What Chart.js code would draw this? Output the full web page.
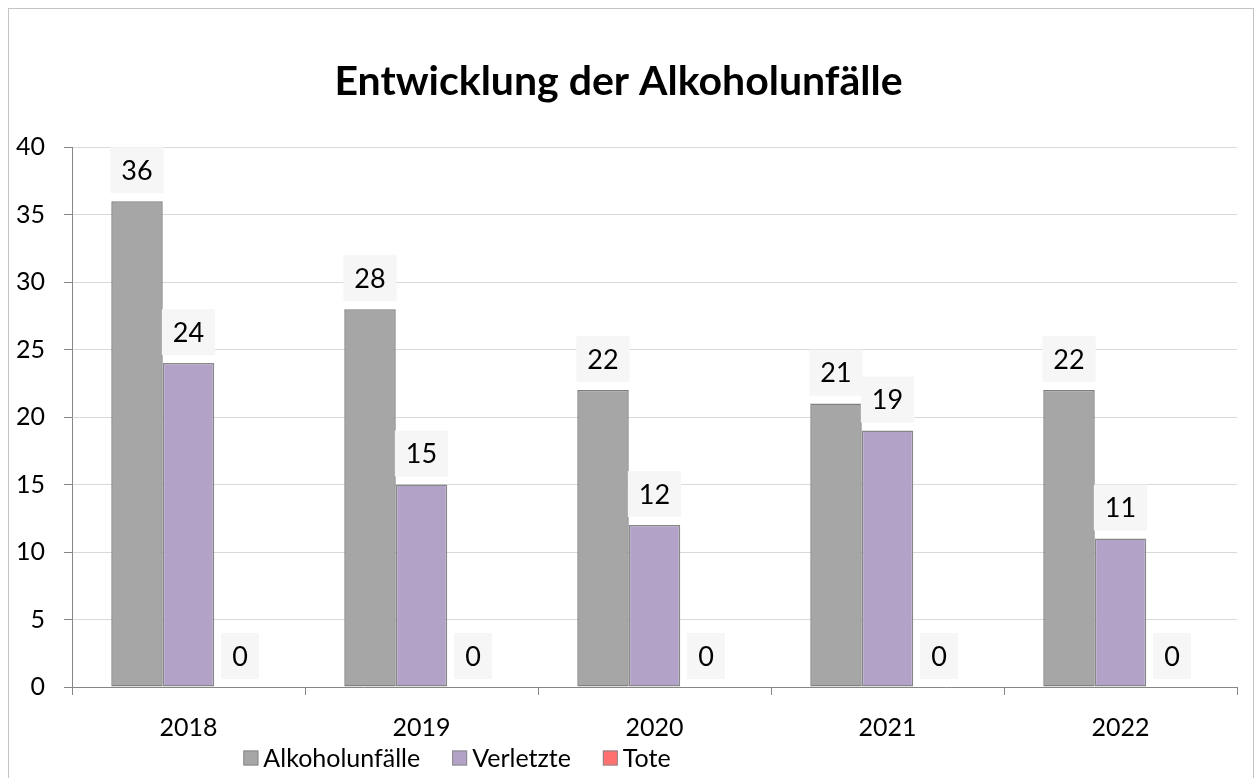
<!DOCTYPE html>
<html lang="de">
<head>
<meta charset="utf-8">
<title>Entwicklung der Alkoholunfälle</title>
<script src="https://cdn.jsdelivr.net/npm/chart.js@4.4.1/dist/chart.umd.min.js"></script>
<style>
  html, body { margin: 0; padding: 0; background: #fff; overflow: hidden; }
  #wrap { position: relative; width: 1255px; height: 778px; }
</style>
</head>
<body>
<div id="wrap"><canvas id="accidentChart"></canvas></div>
<script>
// Jahre und Werte
const years = ['2018', '2019', '2020', '2021', '2022'];
const alkoholunfaelle = [36, 28, 22, 21, 22];
const verletzte = [24, 15, 12, 19, 11];
const tote = [0, 0, 0, 0, 0];
const yTicks = [0, 5, 10, 15, 20, 25, 30, 35, 40];

const FONT = "Lato, 'Open Sans', sans-serif";

// White background and thin frame around the whole chart
const framePlugin = {
    id: 'frame',
    beforeDraw(chart) {
        const ctx = chart.ctx;
        ctx.save();
        ctx.fillStyle = '#ffffff';
        ctx.fillRect(0, 0, chart.width, chart.height);
        ctx.strokeStyle = '#c4c4c4';
        ctx.lineWidth = 1;
        ctx.strokeRect(8.5, 8.5, chart.width - 10, chart.height + 20);
        ctx.restore();
    }
};

// Value labels in light boxes above each bar
const valueLabels = {
    id: 'valueLabels',
    afterDatasetsDraw(chart) {
        const ctx = chart.ctx;
        ctx.save();
        ctx.font = '27px ' + FONT;
        ctx.textAlign = 'center';
        ctx.textBaseline = 'middle';
        chart.data.datasets.forEach((ds, i) => {
            const meta = chart.getDatasetMeta(i);
            meta.data.forEach((bar, j) => {
                const text = String(ds.data[j]);
                const w = ctx.measureText(text).width + 22;
                const h = 46;
                const bottom = bar.y - 8;
                ctx.fillStyle = '#f6f6f6';
                ctx.fillRect(bar.x - w / 2, bottom - h, w, h);
                ctx.fillStyle = '#000000';
                ctx.fillText(text, bar.x, bottom - h / 2 + 1);
            });
        });
        ctx.restore();
    }
};

// Legend row under the axis
const legendRow = {
    id: 'legendRow',
    afterDraw(chart) {
        const ctx = chart.ctx;
        const box = 15, gap = 5, spacing = 32;
        const cy = 758;
        ctx.save();
        ctx.font = '25px ' + FONT;
        ctx.textBaseline = 'middle';
        const items = chart.data.datasets.map(ds => ({
            label: ds.label,
            color: ds.backgroundColor,
            w: box + gap + ctx.measureText(ds.label).width
        }));
        const total = items.reduce((s, it) => s + it.w, 0) + spacing * (items.length - 1);
        let x = 457 - total / 2;
        items.forEach(it => {
            ctx.fillStyle = it.color;
            ctx.fillRect(x, cy - box / 2, box, box);
            ctx.strokeStyle = '#8a8a8a';
            ctx.lineWidth = 1;
            ctx.strokeRect(x + 0.5, cy - box / 2 + 0.5, box - 1, box - 1);
            ctx.fillStyle = '#000000';
            ctx.fillText(it.label, x + box + gap, cy + 1);
            x += it.w + spacing;
        });
        ctx.restore();
    }
};

const ctx = document.getElementById('accidentChart').getContext('2d');

new Chart(ctx, {
    type: 'bar',
    data: {
        labels: years,
        datasets: [
            {
                label: 'Alkoholunfälle',
                data: alkoholunfaelle,
                backgroundColor: '#a6a6a6',
                borderColor: '#808080',
                borderWidth: 1.5,
                borderSkipped: false
            },
            {
                label: 'Verletzte',
                data: verletzte,
                backgroundColor: '#b2a2c7',
                borderColor: '#878787',
                borderWidth: 1.5,
                borderSkipped: false
            },
            {
                label: 'Tote',
                data: tote,
                backgroundColor: '#ff7070',
                borderColor: '#8c8c8c',
                borderWidth: 0
            }
        ]
    },
    options: {
        responsive: true,
        maintainAspectRatio: false,
        animation: false,
        layout: { padding: { left: 0, right: 18, top: 0, bottom: 0 } },
        datasets: {
            bar: { categoryPercentage: 0.663, barPercentage: 1 }
        },
        plugins: {
            legend: { display: false },
            tooltip: { enabled: false },
            title: {
                display: true,
                text: 'Entwicklung der Alkoholunfälle',
                color: '#000000',
                font: { family: FONT, size: 41, weight: 'bold', lineHeight: 1.2 },
                padding: { top: 57, bottom: 41 }
            }
        },
        scales: {
            x: {
                grid: {
                    display: true,
                    offset: true,
                    drawOnChartArea: false,
                    drawTicks: true,
                    tickLength: 8,
                    tickColor: '#868686'
                },
                border: { display: true, color: '#868686', width: 1 },
                ticks: {
                    color: '#000000',
                    font: { family: FONT, size: 25 },
                    padding: 18
                },
                afterFit(scale) { scale.height = 91; }
            },
            y: {
                min: 0,
                max: 40,
                afterBuildTicks(scale) {
                    scale.ticks = yTicks.map(v => ({ value: v }));
                },
                grid: {
                    color: '#d9d9d9',
                    tickColor: '#868686',
                    tickLength: 8
                },
                border: { display: true, color: '#868686', width: 1 },
                ticks: {
                    color: '#000000',
                    font: { family: FONT, size: 25 },
                    padding: 19
                },
                afterFit(scale) { scale.width = 72; }
            }
        }
    },
    plugins: [framePlugin, valueLabels, legendRow]
});
</script>
</body>
</html>
